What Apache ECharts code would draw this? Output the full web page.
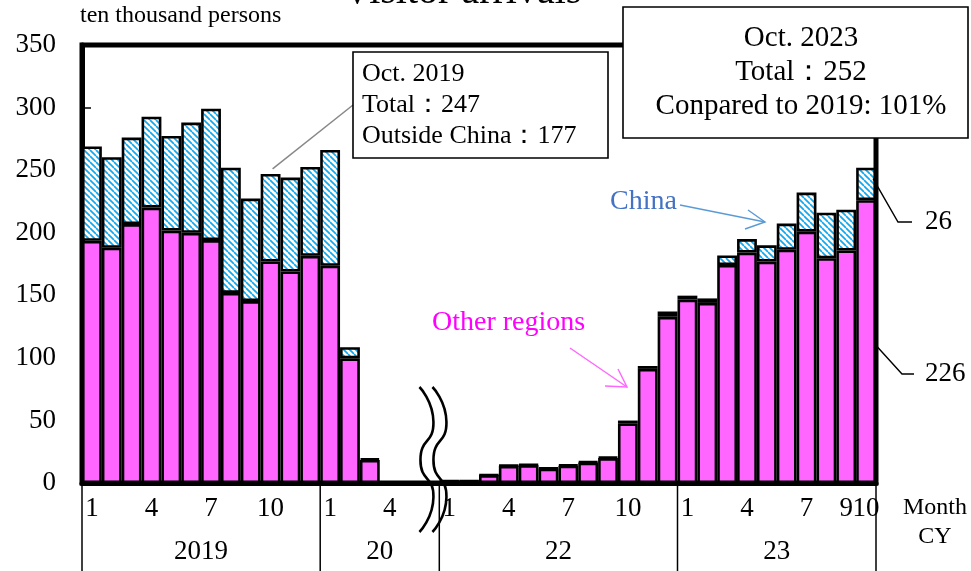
<!DOCTYPE html>
<html>
<head>
<meta charset="utf-8">
<script src="https://cdn.jsdelivr.net/npm/echarts@6/dist/echarts.min.js"></script>
<style>
  html, body { margin: 0; padding: 0; background: #fff; }
  #chart { width: 971px; height: 571px; }
</style>
</head>
<body>
<div id="chart"></div>
<script>
// Monthly visitor arrivals (ten thousand persons), split into China and other regions.
const yearLabels = ['2019', '20', '22', '23'];
const years = [2019, 2020, 2022, 2023];
const monthsPerYear = [12, 6, 12, 10];

const monthTickLabels = [
  '1', '', '', '4', '', '', '7', '', '', '10', '', '',
  '1', '', '', '4', '', '',
  '1', '', '', '4', '', '', '7', '', '', '10', '', '',
  '1', '', '', '4', '', '', '7', '', '9', '10'
];

const otherRegions = [
  193.5, 188.0, 206.9, 220.1, 201.7, 199.9, 194.1, 151.9, 145.4, 177.0, 169.0, 181.5,
  173.6, 99.6, 18.4, 0.27, 0.15, 0.24,
  1.5, 1.5, 6.3, 13.7, 14.2, 11.5, 13.8, 16.3, 19.9, 47.7, 91.2, 132.8,
  146.6, 143.9, 174.2, 184.1, 176.9, 186.4, 200.8, 179.6, 185.8, 226.0
];

const china = [
  75.4, 72.4, 69.1, 72.6, 75.6, 88.1, 105.0, 100.1, 81.9, 70.0, 75.1, 71.1,
  92.5, 8.9, 1.0, 0.02, 0.02, 0.02,
  0.3, 0.2, 0.3, 0.3, 0.5, 0.5, 0.7, 0.7, 0.8, 2.2, 2.3, 4.2,
  3.1, 3.6, 7.6, 10.8, 13.0, 20.9, 31.3, 36.4, 32.6, 26.0
];

const FONT = '"Liberation Serif", "Times New Roman", serif';

// one category per month, grouped by year
const categories = [];
years.forEach((y, gi) => {
  for (let m = 1; m <= monthsPerYear[gi]; m++) categories.push(y + '-' + m);
});

// diagonal hatch used for the China segment
function makeHatch() {
  const s = 6;
  const c = document.createElement('canvas');
  c.width = s; c.height = s;
  const g = c.getContext('2d');
  g.fillStyle = '#ffffff';
  g.fillRect(0, 0, s, s);
  g.strokeStyle = '#10a8ee';
  g.lineWidth = 1.7;
  for (const o of [-s, 0, s]) {
    g.beginPath();
    g.moveTo(o, 0);
    g.lineTo(o + s, s);
    g.stroke();
  }
  return c;
}

const chart = echarts.init(document.getElementById('chart'), null, { renderer: 'canvas' });

chart.setOption({
  animation: false,
  grid: {
    left: 82, right: 95, top: 45, bottom: 88,
    show: true, borderColor: '#000', borderWidth: 5
  },
  xAxis: {
    type: 'category',
    data: categories,
    axisLine: { lineStyle: { color: '#000', width: 5 } },
    axisTick: { show: false },
    axisLabel: {
      interval: 0,
      formatter: (v, i) => monthTickLabels[i],
      fontFamily: FONT, fontSize: 27, color: '#000', margin: 12
    }
  },
  yAxis: {
    type: 'value',
    min: 0, max: 350, interval: 50,
    axisLine: { show: true, lineStyle: { color: '#000', width: 5 } },
    axisTick: { show: true, inside: true, length: 9, lineStyle: { color: '#000', width: 1.5 } },
    splitLine: { show: false },
    axisLabel: { fontFamily: FONT, fontSize: 27, color: '#000', margin: 26 }
  },
  series: [
    {
      name: 'Other regions', type: 'bar', stack: 'total', data: otherRegions,
      barWidth: '100%',
      itemStyle: { color: '#ff66ff', borderColor: '#000', borderWidth: 2.6 }
    },
    {
      name: 'China', type: 'bar', stack: 'total', data: china,
      barWidth: '100%',
      itemStyle: { color: { image: makeHatch(), repeat: 'repeat' }, borderColor: '#000', borderWidth: 2.6 }
    }
  ]
});

// ---- title, annotations, year row and axis break, positioned from the axes ----
const xc = i => chart.convertToPixel({ xAxisIndex: 0 }, categories[i]);
const yp = v => chart.convertToPixel({ yAxisIndex: 0 }, v);
const band = xc(1) - xc(0);
const edge = i => xc(i) - band / 2;          // left edge of slot i
const y0 = yp(0);
const bottomY = 571;

const g = [];
const txt = (text, x, y, size, opts = {}) => g.push({
  type: 'text', z: 120,
  style: Object.assign({
    text, x, y, fontFamily: FONT, fontSize: size, fill: '#000',
    textAlign: 'left', textVerticalAlign: 'middle'
  }, opts)
});
const line = (pts, stroke, w, z = 110) => g.push({
  type: 'polyline', z, shape: { points: pts },
  style: { stroke, lineWidth: w, fill: null }
});

// chart title, running off the top edge
txt('Visitor arrivals', 462, -8, 40, { textAlign: 'center' });

// unit label
txt('ten thousand persons', 80, 16, 24);

// year group separators and labels
let start = 0;
const sepX = [edge(0)];
monthsPerYear.forEach((n, gi) => {
  const l = edge(start), r = edge(start + n - 1) + band;
  txt(yearLabels[gi], (l + r) / 2, 552, 27, { textAlign: 'center' });
  sepX.push(r);
  start += n;
});
sepX.forEach(x => line([[x, y0], [x, bottomY]], '#000', 1.5, 105));

txt('Month', 935, 508, 24, { textAlign: 'center' });
txt('CY', 935, 537, 24, { textAlign: 'center' });

// axis break between 2020 and 2022
const bx = edge(17);
const wave = [[0, 387], [14, 422], [1, 460], [14, 497], [0, 532]];
[0, 13].forEach(dx => g.push({
  type: 'polyline', z: 115,
  shape: { points: wave.map(p => [bx + dx + p[0], p[1]]), smooth: 0.6 },
  style: { stroke: '#000', lineWidth: 2.6, fill: null }
}));

// Oct 2019 call-out
const oct19 = 9;
line([[xc(oct19) + 2, yp(otherRegions[oct19] + china[oct19]) - 5], [353, 105]], '#888', 1.5);
g.push({
  type: 'rect', z: 112, shape: { x: 353, y: 52, width: 255, height: 106 },
  style: { fill: '#fff', stroke: '#000', lineWidth: 1.6 }
});
txt('Oct. 2019', 362, 74, 26);
txt('Total：247', 362, 105, 26);
txt('Outside China：177', 362, 136, 26);

// Oct 2023 summary box
g.push({
  type: 'rect', z: 112, shape: { x: 623, y: 7, width: 345, height: 131 },
  style: { fill: '#fff', stroke: '#000', lineWidth: 1.6 }
});
txt('Oct. 2023', 801, 38, 29, { textAlign: 'center' });
txt('Total：252', 801, 72, 29, { textAlign: 'center' });
txt('Conpared to 2019: 101%', 801, 106, 29, { textAlign: 'center' });

// series call-outs with arrows
txt('China', 610, 202, 28, { fill: '#4472c4' });
line([[680, 205], [765, 222]], '#5b9bd5', 1.4);
line([[748, 210], [765, 222], [745, 229]], '#5b9bd5', 1.4);

txt('Other regions', 432, 323, 28, { fill: '#ff00ff' });
line([[570, 348], [627, 387]], '#ff66ff', 1.4);
line([[618, 369], [627, 387], [605, 386]], '#ff66ff', 1.4);

// last-month value labels
const last = categories.length - 1;
const topLast = yp(otherRegions[last] + china[last]);
const midOther = (yp(otherRegions[last]) + y0) / 2;
line([[xc(last) + 7, topLast + 11], [898, 222], [912, 222]], '#000', 1.4);
txt(String(china[last]), 925, 222, 27);
line([[edge(last) + band + 1, midOther + 5], [902, 374], [914, 374]], '#000', 1.4);
txt(String(otherRegions[last]), 925, 374, 27);

chart.setOption({ graphic: g });
</script>
</body>
</html>
